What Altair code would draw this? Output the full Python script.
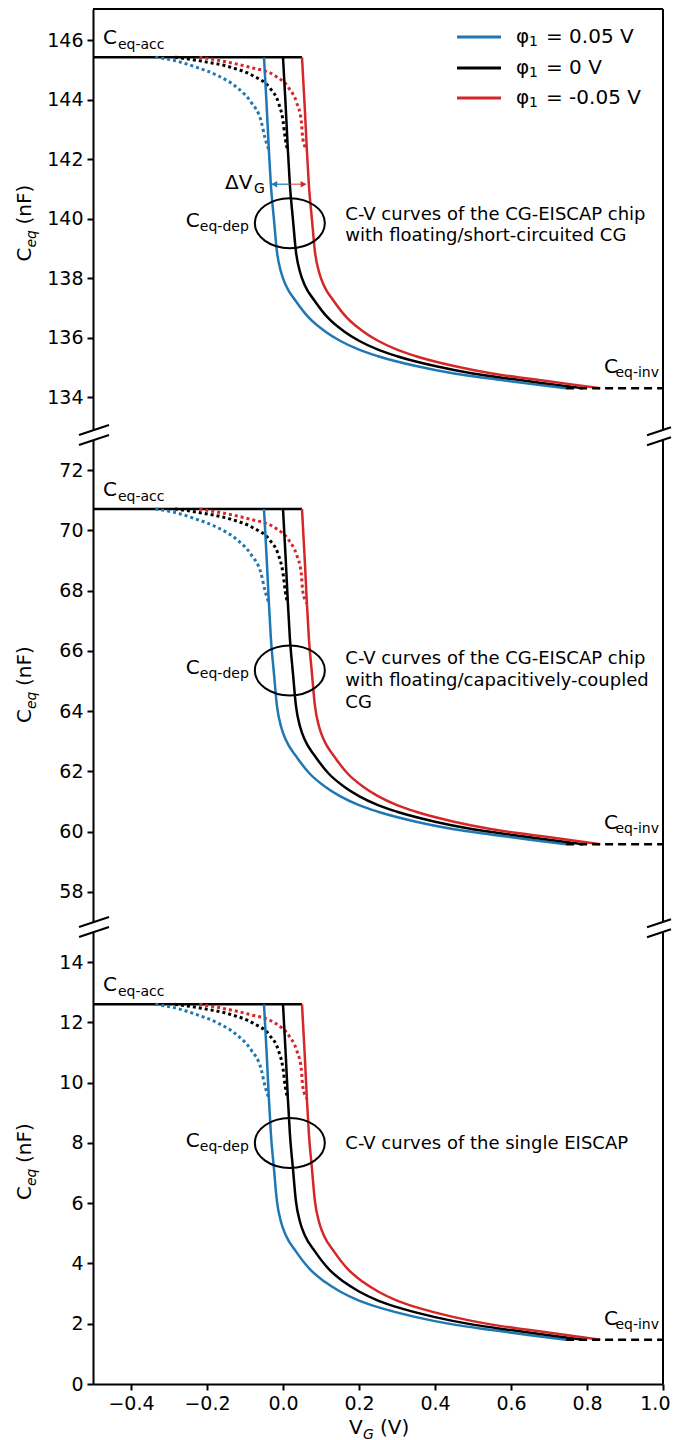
import altair as alt
import pandas as pd

FONT = "DejaVu Sans"
BLUE, BLACK, RED = "#1f77b4", "#000000", "#d62728"
series_names = ["φ₁ = 0.05 V", "φ₁ = 0 V", "φ₁ = -0.05 V"]
series_values = ["= 0.05 V", "= 0 V", "= -0.05 V"]
series_colors = [BLUE, BLACK, RED]

# ---- solid C-V curves (x in V for each phi1, C in nF per panel) ----
x_solid_blue = [-0.050, -0.043, -0.037, -0.032, -0.024, -0.016, -0.005, 0.008, 0.034, 0.070, 0.110, 0.150, 0.200, 0.250, 0.350, 0.450, 0.550, 0.650, 0.745]
x_solid_black = [0.000, 0.007, 0.013, 0.018, 0.026, 0.034, 0.045, 0.058, 0.084, 0.120, 0.160, 0.200, 0.250, 0.300, 0.400, 0.500, 0.600, 0.700, 0.790]
x_solid_red = [0.050, 0.057, 0.063, 0.068, 0.076, 0.084, 0.095, 0.108, 0.134, 0.170, 0.210, 0.250, 0.300, 0.350, 0.450, 0.550, 0.650, 0.750, 0.835]
c_solid_top = [145.43, 143.80, 142.27, 141.16, 140.00, 138.90, 138.20, 137.75, 137.23, 136.65, 136.22, 135.90, 135.60, 135.38, 135.05, 134.80, 134.62, 134.45, 134.30]
c_solid_mid = [70.71, 69.08, 67.55, 66.44, 65.28, 64.18, 63.48, 63.03, 62.51, 61.93, 61.50, 61.18, 60.88, 60.66, 60.33, 60.08, 59.90, 59.73, 59.58]
c_solid_bot = [12.60, 10.97, 9.44, 8.33, 7.17, 6.07, 5.37, 4.92, 4.40, 3.82, 3.39, 3.07, 2.77, 2.55, 2.22, 1.97, 1.79, 1.62, 1.47]

# ---- dotted curves ----
x_dot_blue = [-0.336, -0.280, -0.230, -0.170, -0.120, -0.083, -0.058, -0.047, -0.037]
x_dot_black = [-0.284, -0.215, -0.140, -0.078, -0.035, -0.012, 0.000, 0.006, 0.012]
x_dot_red = [-0.220, -0.160, -0.090, -0.020, 0.015, 0.036, 0.048, 0.052, 0.063]
c_dot_top = [145.43, 145.30, 145.10, 144.80, 144.40, 143.90, 143.30, 142.70, 142.30]
c_dot_mid = [70.71, 70.58, 70.38, 70.08, 69.68, 69.18, 68.58, 67.98, 67.58]
c_dot_bot = [12.60, 12.47, 12.27, 11.97, 11.57, 11.07, 10.47, 9.87, 9.47]

c_acc = [145.43, 70.71, 12.60]
c_inv = [134.30, 59.58, 1.47]
x_acc_line = [-0.5, 0.05]
x_inv_line = [0.745, 1.0]
ellipse_x = [0.018, 0.018, 0.018]
ellipse_c = [139.85, 65.35, 8.00]
y_domains = [[132.9, 147.05], [57.0, 73.0], [0.0, 15.0]]
y_ticks = [[134, 136, 138, 140, 142, 144, 146],
           [58, 60, 62, 64, 66, 68, 70, 72],
           [0, 2, 4, 6, 8, 10, 12, 14]]
x_ticks = [-0.4, -0.2, 0.0, 0.2, 0.4, 0.6, 0.8, 1.0]
notes = [["C-V curves of the CG-EISCAP chip", "with floating/short-circuited CG"],
         ["C-V curves of the CG-EISCAP chip", "with floating/capacitively-coupled", "CG"],
         ["C-V curves of the single EISCAP"]]
note_x = 0.164
dvg_c = 141.16
dvg_x = [-0.029, 0.016, 0.060]

W = 570
heights = [421, 482, 452]
ELLIPSE = "M-1,0A1,0.714,0,1,1,1,0A1,0.714,0,1,1,-1,0Z"

xs = alt.Scale(domain=[-0.5, 1.0], nice=False, zero=False)
cscale = alt.Scale(domain=series_names, range=series_colors)


def panel(i):
    h = heights[i]
    ys = alt.Scale(domain=y_domains[i], nice=False, zero=False)
    yax = alt.Axis(values=y_ticks[i], title=None, format="d", grid=False)
    if i == 2:
        xax = alt.Axis(values=x_ticks, title=None, grid=False, labelFlush=True, labelFlushOffset=7,
                       labelExpr="replace(format(datum.value, '.1f'), '-', '\u2212')")
    else:
        xax = None

    def X(f="x"):
        return alt.X(f + ":Q", scale=xs, axis=xax)

    def Y(f="y"):
        return alt.Y(f + ":Q", scale=ys, axis=yax)

    csolid = [c_solid_top, c_solid_mid, c_solid_bot][i]
    cdot = [c_dot_top, c_dot_mid, c_dot_bot][i]
    rows_s, rows_d = [], []
    for s, xl in zip(series_names, [x_solid_blue, x_solid_black, x_solid_red]):
        for k, (xv, cv) in enumerate(zip(xl, csolid)):
            rows_s.append({"s": s, "x": xv, "y": cv, "o": k})
    for s, xl in zip(series_names, [x_dot_blue, x_dot_black, x_dot_red]):
        for k, (xv, cv) in enumerate(zip(xl, cdot)):
            rows_d.append({"s": s, "x": xv, "y": cv, "o": k})
    df_s = pd.DataFrame(rows_s)
    df_d = pd.DataFrame(rows_d)
    col = alt.Color("s:N", scale=cscale, legend=None, sort=series_names)

    layers = []
    acc = pd.DataFrame({"x": x_acc_line, "y": [c_acc[i]] * 2})
    layers.append(alt.Chart(acc).mark_line(color=BLACK, strokeWidth=2.5).encode(x=X(), y=Y()))
    layers.append(alt.Chart(df_d).mark_line(strokeWidth=3, strokeDash=[3, 3], interpolate="monotone").encode(
        x=X(), y=Y(), color=col, order="o:Q", detail="s:N"))
    layers.append(alt.Chart(df_s).mark_line(strokeWidth=2.5, interpolate="monotone").encode(
        x=X(), y=Y(), color=col, order="o:Q", detail="s:N"))
    inv = pd.DataFrame({"x": x_inv_line, "y": [c_inv[i]] * 2})
    layers.append(alt.Chart(inv).mark_line(color=BLACK, strokeWidth=2.5, strokeDash=[8, 5]).encode(x=X(), y=Y()))
    ell = pd.DataFrame({"x": [ellipse_x[i]], "y": [ellipse_c[i]]})
    layers.append(alt.Chart(ell).mark_point(shape=ELLIPSE, size=4900, filled=False, color=BLACK,
                                            strokeWidth=2, opacity=1).encode(x=X(), y=Y()))

    def t(xv, yv, s, size=20, dx=0, dy=0, align="left", italic=False):
        d = pd.DataFrame({"x": [xv], "y": [yv], "t": [s]})
        return alt.Chart(d).mark_text(fontSize=size, dx=dx, dy=dy, align=align, baseline="alphabetic",
                                      font=FONT, color=BLACK,
                                      fontStyle="italic" if italic else "normal").encode(
            x=X(), y=Y(), text="t:N")

    # C_eq-acc label
    layers.append(t(-0.474, c_acc[i], "C", 20, 0, -13))
    layers.append(t(-0.474, c_acc[i], "eq-acc", 14, 15, -8))
    # C_eq-dep label
    layers.append(t(ellipse_x[i], ellipse_c[i], "C", 20, -104, 4))
    layers.append(t(ellipse_x[i], ellipse_c[i], "eq-dep", 14, -90, 8))
    # C_eq-inv label
    layers.append(t(1.0, c_inv[i], "C", 20, -45, -15, "right"))
    layers.append(t(1.0, c_inv[i], "eq-inv", 14, -4, -11, "right"))
    # notes
    offs = [[-3.5, 17.5], [-6.5, 15.5, 37.5], [6.5]][i]
    for line, off in zip(notes[i], offs):
        layers.append(t(note_x, ellipse_c[i], line, 18, 0, off))

    # frame: right spine, break marks
    def rule(x1, y1, x2, y2, w=2):
        return alt.Chart(pd.DataFrame({"a": [0]})).mark_rule(color=BLACK, strokeWidth=w).encode(
            x=alt.value(x1), y=alt.value(y1), x2=alt.value(x2), y2=alt.value(y2))

    layers.append(rule(W, 0, W, h))
    if i == 0:
        layers.append(rule(0, 0, W, 0))
    edges = []
    if i in (0, 1):
        edges.append(h)
    if i in (1, 2):
        edges.append(0)
    for e in edges:
        layers.append(rule(-14, e + 5, 16, e - 5))
        layers.append(rule(W - 16, e + 5.3, W + 8, e - 2.7))

    # y title pieces: C_eq (nF), rotated
    yt = h / 2 + 42

    def ty(s, size, dx, dy, italic=False):
        d = pd.DataFrame({"t": [s]})
        return alt.Chart(d).mark_text(fontSize=size, dx=dx, dy=dy, align="left", baseline="alphabetic",
                                      angle=270, font=FONT, color=BLACK,
                                      fontStyle="italic" if italic else "normal").encode(
            x=alt.value(-62), y=alt.value(yt), text="t:N")
    layers.append(ty("C", 20, 0, 0))
    layers.append(ty("eq", 14, 14, 5, True))
    layers.append(ty("(nF)", 20, 37, 0))

    if i == 0:
        # legend
        leg = pd.DataFrame({"s": series_names, "v": series_values, "py": [28, 59, 89]})
        layers.append(alt.Chart(leg).mark_rule(strokeWidth=3).encode(
            x=alt.value(364), x2=alt.value(408), y=alt.Y("py:Q", scale=None), color=col))
        for txt_field, size, xo, dyo in (("φ", 20, 423, 0), ("1", 14, 436, 5), ("v", 20, 453, 0)):
            if txt_field == "v":
                enc_text = alt.Text("v:N")
            else:
                enc_text = alt.value(txt_field)
            layers.append(alt.Chart(leg).mark_text(fontSize=size, align="left", baseline="middle", font=FONT,
                                                   color=BLACK, dy=dyo).encode(
                x=alt.value(xo), y=alt.Y("py:Q", scale=None), text=enc_text))
        # delta V_G arrow
        arr_b = pd.DataFrame({"x": [dvg_x[0]], "x2": [dvg_x[1]], "y": [dvg_c]})
        arr_r = pd.DataFrame({"x": [dvg_x[1]], "x2": [dvg_x[2]], "y": [dvg_c]})
        layers.append(alt.Chart(arr_b).mark_rule(color=BLUE, strokeWidth=1.5, opacity=0.8).encode(
            x=X(), x2="x2:Q", y=Y()))
        layers.append(alt.Chart(arr_r).mark_rule(color=RED, strokeWidth=1.5, opacity=0.6).encode(
            x=X(), x2="x2:Q", y=Y()))
        hb = pd.DataFrame({"x": [dvg_x[0] + 0.006], "y": [dvg_c]})
        hr = pd.DataFrame({"x": [dvg_x[2] - 0.006], "y": [dvg_c]})
        layers.append(alt.Chart(hb).mark_point(shape="triangle-left", size=45, filled=True, color=BLUE,
                                               opacity=1).encode(x=X(), y=Y()))
        layers.append(alt.Chart(hr).mark_point(shape="triangle-right", size=45, filled=True, color=RED,
                                               opacity=1).encode(x=X(), y=Y()))
        layers.append(t(dvg_x[0], dvg_c, "ΔV", 20, -47, 5))
        layers.append(t(dvg_x[0], dvg_c, "G", 14, -18, 9))

    if i == 2:
        def tx(s, size, dx, dy, italic=False):
            d = pd.DataFrame({"t": [s]})
            return alt.Chart(d).mark_text(fontSize=size, dx=dx, dy=dy, align="left", baseline="alphabetic",
                                          font=FONT, color=BLACK,
                                          fontStyle="italic" if italic else "normal").encode(
                x=alt.value(256), y=alt.value(h + 50), text="t:N")
        layers.append(tx("V", 20, 0, 0))
        layers.append(tx("G", 14, 14, 5, True))
        layers.append(tx("(V)", 20, 31, 0))

    return alt.layer(*layers).properties(width=W, height=h)


chart = alt.vconcat(panel(0), panel(1), panel(2), spacing=10, bounds="flush").properties(
    padding={"left": 7, "top": 0, "right": 0, "bottom": 0}
).configure_view(stroke=None).configure_axis(
    labelFont=FONT, labelFontSize=19, labelColor=BLACK, domainColor=BLACK, domainWidth=2,
    tickColor=BLACK, tickWidth=2, tickSize=6, labelPadding=4, grid=False
)

chart.save("out.html", embed_options={"renderer": "svg", "actions": False})
